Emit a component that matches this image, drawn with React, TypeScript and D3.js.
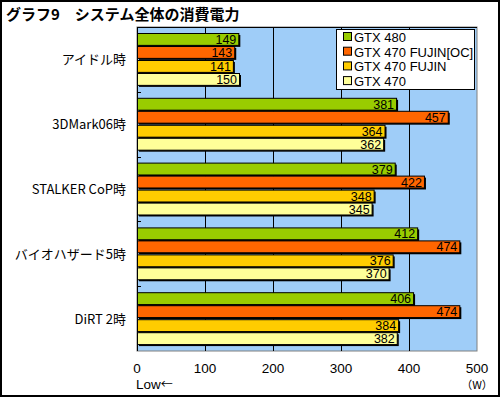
import React, { useEffect, useRef } from 'react';
import * as d3 from 'd3';

const title = 'グラフ9\u3000システム全体の消費電力';
const categories = ['アイドル時', '3DMark06時', 'STALKER CoP時', 'バイオハザード5時', 'DiRT 2時'];
const seriesNames = ['GTX 480', 'GTX 470 FUJIN[OC]', 'GTX 470 FUJIN', 'GTX 470'];
const seriesColors = ['#99cc00', '#ff6600', '#ffcc00', '#ffff99'];
const gtx480 = [149, 381, 379, 412, 406];
const fujinOc = [143, 457, 422, 474, 474];
const fujin = [141, 364, 348, 376, 384];
const gtx470 = [150, 362, 345, 370, 382];
const xTicks = [0, 100, 200, 300, 400, 500];

const font = '"Noto Sans CJK JP", "DejaVu Sans", sans-serif';
const latin = '"Liberation Sans", "DejaVu Sans", sans-serif';

const App = () => {
  const ref = useRef<SVGSVGElement>(null);

  useEffect(() => {
    const svg = d3.select(ref.current);
    svg.selectAll('*').remove();

    const W = 500;
    const H = 397;
    const plot = { left: 137, right: 477, top: 27, bottom: 351 };

    const values = [gtx480, fujinOc, fujin, gtx470];
    const rows = categories.map((c, ci) => ({
      cat: c,
      bars: seriesNames.map((s, si) => ({ s, si, v: values[si][ci] })),
    }));

    const x = d3.scaleLinear().domain([0, 500]).range([plot.left, plot.right]);
    const y = d3.scaleBand().domain(categories).range([plot.top, plot.bottom]);
    const yInner = d3.scaleBand().domain(seriesNames).range([6, 59.5]);

    // frame
    svg.append('rect').attr('x', 1).attr('y', 1).attr('width', W - 2).attr('height', H - 2)
      .attr('fill', '#fff').attr('stroke', '#000').attr('stroke-width', 2);

    svg.append('text').attr('x', 6).attr('y', 20).text(title)
      .attr('font-family', font).attr('font-size', 15).attr('font-weight', 'bold');

    // plot background
    svg.append('rect').attr('x', plot.left).attr('y', plot.top)
      .attr('width', plot.right - plot.left).attr('height', plot.bottom - plot.top)
      .attr('fill', '#9fcdf8').attr('stroke', '#808080');
    svg.append('line').attr('x1', plot.left).attr('x2', plot.right)
      .attr('y1', plot.top + 0.5).attr('y2', plot.top + 0.5).attr('stroke', '#000');

    // grid lines
    svg.selectAll('.grid').data(xTicks.slice(1, -1)).enter().append('line')
      .attr('x1', (d) => Math.round(x(d)) + 0.5).attr('x2', (d) => Math.round(x(d)) + 0.5)
      .attr('y1', plot.top).attr('y2', plot.bottom).attr('stroke', '#000');

    // left axis
    svg.append('line').attr('x1', plot.left + 0.5).attr('x2', plot.left + 0.5)
      .attr('y1', plot.top).attr('y2', plot.bottom).attr('stroke', '#000');
    svg.selectAll('.ytick').data(categories.slice(1)).enter().append('line')
      .attr('x1', plot.left).attr('x2', plot.left + 4)
      .attr('y1', (d) => Math.round(y(d)!) + 0.5).attr('y2', (d) => Math.round(y(d)!) + 0.5)
      .attr('stroke', '#000');

    const g = svg.selectAll('.grp').data(rows).enter().append('g')
      .attr('transform', (d) => `translate(0,${y(d.cat)})`);

    const bh = yInner.bandwidth() - 1.5;
    const bar = g.selectAll('.bar').data((d) => d.bars).enter().append('g');
    bar.append('rect')
      .attr('x', plot.left + 2).attr('y', (d) => Math.round(yInner(d.s)!) + 2)
      .attr('width', (d) => x(d.v) - plot.left).attr('height', bh).attr('fill', '#000');
    bar.append('rect')
      .attr('x', plot.left + 0.5).attr('y', (d) => Math.round(yInner(d.s)!) + 0.5)
      .attr('width', (d) => x(d.v) - plot.left).attr('height', bh)
      .attr('fill', (d) => seriesColors[d.si]).attr('stroke', '#000');
    bar.append('text')
      .attr('x', (d) => x(d.v) - 2).attr('y', (d) => Math.round(yInner(d.s)!) + bh / 2 + 5)
      .attr('text-anchor', 'end').attr('font-family', latin).attr('font-size', 12.5)
      .text((d) => d.v);

    // category labels
    svg.selectAll('.cat').data(categories).enter().append('text')
      .attr('x', 126).attr('y', (d) => y(d)! + y.bandwidth() / 2 + 5)
      .attr('text-anchor', 'end').attr('font-family', font).attr('font-size', 13)
      .text((d) => d);

    // x tick labels
    svg.selectAll('.xt').data(xTicks).enter().append('text')
      .attr('x', (d) => x(d)).attr('y', 373).attr('text-anchor', 'middle')
      .attr('font-family', latin).attr('font-size', 13.5).text((d) => d);
    const low = svg.append('text').attr('x', 136).attr('y', 389).attr('font-family', latin)
      .attr('font-size', 13.5);
    low.append('tspan').text('Low');
    low.append('tspan').attr('font-family', font).attr('font-size', 12).text('←');
    svg.append('text').attr('x', 477).attr('y', 389).attr('text-anchor', 'middle')
      .attr('font-family', font).attr('font-size', 11).text('（W）');

    // legend
    const lg = svg.append('g').attr('transform', 'translate(336,29)');
    lg.append('rect').attr('x', 0.5).attr('y', 0.5).attr('width', 138).attr('height', 60)
      .attr('fill', '#fff').attr('stroke', '#000');
    const li = lg.selectAll('.li').data(seriesNames).enter().append('g')
      .attr('transform', (d, i) => `translate(7,${8 + i * 14.7})`);
    li.append('rect').attr('x', 0.5).attr('y', -4.5).attr('width', 8).attr('height', 8)
      .attr('fill', (d, i) => seriesColors[i]).attr('stroke', '#000');
    li.append('text').attr('x', 11).attr('y', 5).attr('font-family', latin)
      .attr('font-size', 13).text((d) => d);
  }, []);

  return (
    <svg ref={ref} width={500} height={397} style={{ position: 'absolute', left: 0, top: 0 }} />
  );
};

export default App;
